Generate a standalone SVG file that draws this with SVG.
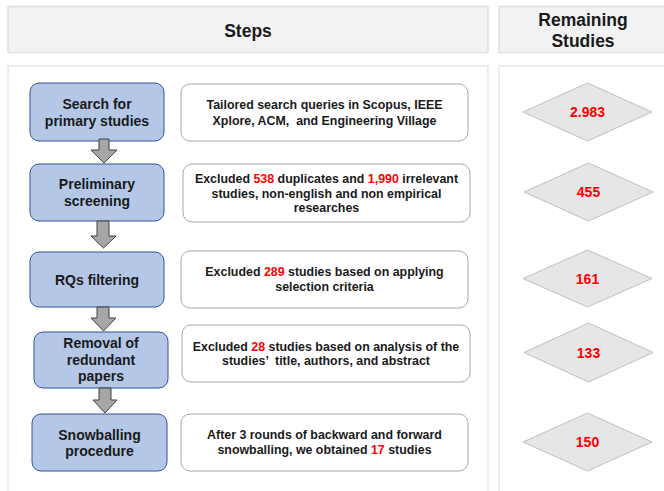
<svg xmlns="http://www.w3.org/2000/svg" width="664" height="491" viewBox="0 0 664 491">
  <style>
    text { font-family: "Liberation Sans", Arial, sans-serif; font-weight: bold; fill: #1a1a1a; text-anchor: middle; }
    .head { fill: #f2f2f2; stroke: #e0e0e0; stroke-width: 1.5; }
    .panel { fill: #ffffff; stroke: #e6e6e6; stroke-width: 1.5; }
    .step { fill: #b4c7e7; stroke: #2f5597; stroke-width: 1; }
    .note { fill: #ffffff; stroke: #a6a6a6; stroke-width: 1; }
    .count { fill: #e6e6e6; stroke: #bfbfbf; stroke-width: 1; }
    .arrow { fill: #a6a6a6; stroke: #404040; stroke-width: 1; }
    .h { font-size: 17.5px; }
    .s { font-size: 14px; }
    .n { font-size: 12.4px; }
    .c { font-size: 14px; fill: #ff0000; }
    .red { fill: #ff0000; }
  </style>

  <!-- column headers -->
  <g id="header-steps">
    <rect class="head" x="8" y="6.5" width="480" height="46"/>
    <text class="h" x="248" y="37">Steps</text>
  </g>
  <g id="header-remaining">
    <rect class="head" x="499" y="6.5" width="170" height="46"/>
    <text class="h" x="583" y="26">Remaining</text>
    <text class="h" x="583" y="47">Studies</text>
  </g>

  <!-- column panels -->
  <g id="panel-steps">
    <rect class="panel" x="8" y="66" width="480" height="430"/>
  </g>
  <g id="panel-remaining">
    <rect class="panel" x="499" y="66" width="170" height="430"/>
  </g>

  <!-- step nodes -->
  <g id="step-search">
    <rect class="step" x="30" y="83" width="134" height="58" rx="9"/>
    <text class="s" x="97" y="109">Search for</text>
    <text class="s" x="97" y="126">primary studies</text>
  </g>
  <g id="step-screening">
    <rect class="step" x="30" y="164" width="134" height="57" rx="9"/>
    <text class="s" x="97" y="189">Preliminary</text>
    <text class="s" x="97" y="206">screening</text>
  </g>
  <g id="step-rqs">
    <rect class="step" x="30" y="252" width="134" height="55" rx="9"/>
    <text class="s" x="97" y="285">RQs filtering</text>
  </g>
  <g id="step-removal">
    <rect class="step" x="34" y="332" width="134" height="56" rx="9"/>
    <text class="s" x="101" y="348">Removal of</text>
    <text class="s" x="101" y="365">redundant</text>
    <text class="s" x="101" y="381">papers</text>
  </g>
  <g id="step-snowballing">
    <rect class="step" x="32" y="414" width="135" height="57" rx="9"/>
    <text class="s" x="99.5" y="440">Snowballing</text>
    <text class="s" x="99.5" y="456">procedure</text>
  </g>

  <!-- step descriptions -->
  <g id="note-search">
    <rect class="note" x="181" y="84" width="287" height="57" rx="9"/>
    <text class="n" x="324.5" y="109">Tailored search queries in Scopus, IEEE</text>
    <text class="n" x="324.5" y="125" xml:space="preserve">Xplore, ACM,  and Engineering Village</text>
  </g>
  <g id="note-screening">
    <rect class="note" x="183" y="164" width="287" height="58" rx="9"/>
    <text class="n" x="326.5" y="183">Excluded <tspan class="red">538</tspan> duplicates and <tspan class="red">1,990</tspan> irrelevant</text>
    <text class="n" x="326.5" y="198">studies, non-english and non empirical</text>
    <text class="n" x="326.5" y="212">researches</text>
  </g>
  <g id="note-rqs">
    <rect class="note" x="181" y="251" width="287" height="57" rx="9"/>
    <text class="n" x="324.5" y="276">Excluded <tspan class="red">289</tspan> studies based on applying</text>
    <text class="n" x="324.5" y="291">selection criteria</text>
  </g>
  <g id="note-removal">
    <rect class="note" x="182" y="325" width="288" height="57" rx="9"/>
    <text class="n" x="326" y="351">Excluded <tspan class="red">28</tspan> studies based on analysis of the</text>
    <text class="n" x="326" y="365" xml:space="preserve">studies’  title, authors, and abstract</text>
  </g>
  <g id="note-snowballing">
    <rect class="note" x="181" y="414" width="287" height="57" rx="9"/>
    <text class="n" x="324.5" y="439">After 3 rounds of backward and forward</text>
    <text class="n" x="324.5" y="454">snowballing, we obtained <tspan class="red">17</tspan> studies</text>
  </g>

  <!-- remaining study counts -->
  <g id="count-search">
    <polygon class="count" points="587.5,83 652,112 587.5,141 523,112"/>
    <text class="c" x="587.5" y="117">2.983</text>
  </g>
  <g id="count-screening">
    <polygon class="count" points="588.5,163 653,192 588.5,221 524,192"/>
    <text class="c" x="588.5" y="197">455</text>
  </g>
  <g id="count-rqs">
    <polygon class="count" points="587.5,250 652,278.5 587.5,307 523,278.5"/>
    <text class="c" x="587.5" y="283.5">161</text>
  </g>
  <g id="count-removal">
    <polygon class="count" points="588.5,323 653,352.5 588.5,382 524,352.5"/>
    <text class="c" x="588.5" y="357.5">133</text>
  </g>
  <g id="count-snowballing">
    <polygon class="count" points="587.5,413 652,442 587.5,471 523,442"/>
    <text class="c" x="587.5" y="447">150</text>
  </g>

  <!-- block arrows between steps -->
  <g id="connectors">
    <polygon class="arrow" points="99,139 109,139 109,150 117,150 104,163 91,150 99,150"/>
    <polygon class="arrow" points="97,221 109,221 109,236 116,236 103.5,248 91,236 97,236"/>
    <polygon class="arrow" points="97,307 109,307 109,318 116,318 103.5,331 91,318 97,318"/>
    <polygon class="arrow" points="99,388 111,388 111,400 117,400 105,413 93,400 99,400"/>
  </g>
</svg>
